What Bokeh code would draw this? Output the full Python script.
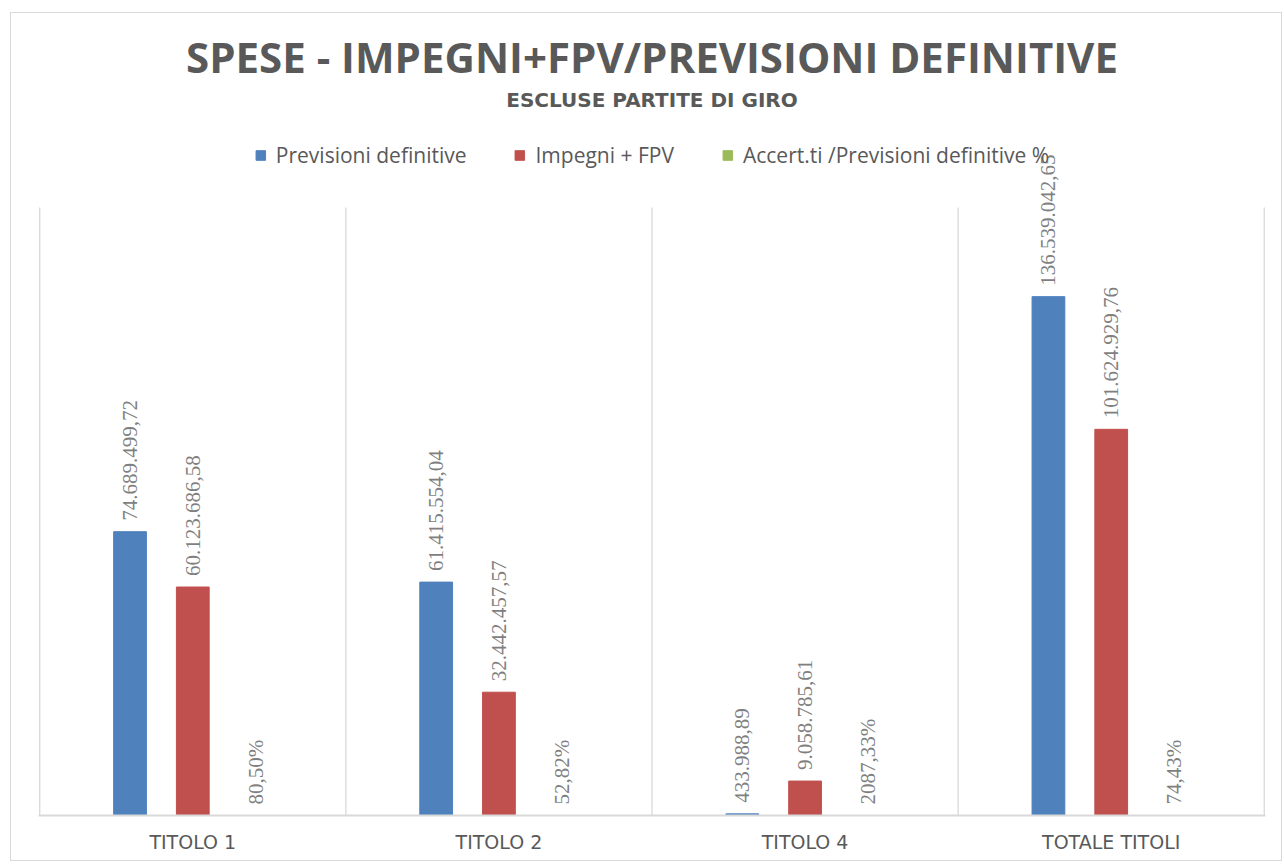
import math
import numpy as np
from bokeh.plotting import figure
from bokeh.models import (ColumnDataSource, LabelSet, Label, Range1d, FixedTicker,
                          Legend, LegendItem)
from bokeh.embed import file_html
from bokeh.resources import INLINE

# ---- data ----
categories = ["TITOLO 1", "TITOLO 2", "TITOLO 4", "TOTALE TITOLI"]
previsioni = [74689499.72, 61415554.04, 433988.89, 136539042.65]
impegni = [60123686.58, 32442457.57, 9058785.61, 101624929.76]
percentuali = [80.50, 52.82, 2087.33, 74.43]
series_names = ["Previsioni definitive", "Impegni + FPV", "Accert.ti /Previsioni definitive %"]
axis_max = 160_000_000

title_text = "SPESE - IMPEGNI+FPV/PREVISIONI DEFINITIVE"
subtitle_text = "ESCLUSE PARTITE DI GIRO"

# ---- style ----
BLUE, RED, GREEN = "#4F81BD", "#C0504D", "#9BBB59"
TXT = "#595959"
LBL = "#7F7F7F"
GRID = "#D9D9D9"
FONT = "Open Sans"
LFONT = "Liberation Sans"
WFONT = "DejaVu Sans"


def it_num(v):
    s = f"{v:,.2f}"
    return s.replace(",", "X").replace(".", ",").replace("X", ".")


def it_pct(v):
    return f"{v:.2f}".replace(".", ",") + "%"


# content origin on page: (11, 13)
W, H = 1272, 849
MB_L, MB_R, MB_T, MB_B = 27, 18, 0, 47
frame_h = H - MB_T - MB_B
PX = axis_max / 608.0          # data units per pixel
y_end = frame_h * PX
BASE_PAGE = 815                # page y of baseline


def ypx(page_y):
    return (BASE_PAGE - page_y) * PX


n = len(categories)
centers = np.arange(n) + 0.5
off = 0.205
bw = 0.107

p = figure(width=W, height=H, output_backend="svg", toolbar_location=None,
           x_range=Range1d(-0.004, n + 0.004), y_range=Range1d(0, y_end),
           min_border_left=MB_L, min_border_right=MB_R,
           min_border_top=MB_T, min_border_bottom=MB_B)
p.styles = {"border": "1px solid #D9D9D9", "margin-left": "10px", "margin-top": "12px"}
p.outline_line_color = None
p.background_fill_color = "white"
p.border_fill_color = "white"
p.grid.visible = False
p.yaxis.visible = False

# category separators
p.segment(x0=list(range(n + 1)), x1=list(range(n + 1)), y0=0, y1=axis_max,
          line_color=GRID, line_width=1.3)

src = ColumnDataSource(dict(
    xb=centers - off, xr=centers, xg=centers + off,
    prev=previsioni, imp=impegni, pct=[v / 100 for v in percentuali],
    lprev=[it_num(v) for v in previsioni],
    limp=[it_num(v) for v in impegni],
    lpct=[it_pct(v) for v in percentuali],
))

rb = p.vbar(x="xb", top="prev", width=bw, source=src, fill_color=BLUE, line_color=BLUE)
rr = p.vbar(x="xr", top="imp", width=bw, source=src, fill_color=RED, line_color=RED)
rg = p.vbar(x="xg", top="pct", width=bw, source=src, fill_color=GREEN, line_color=GREEN)

for xcol, ycol, tcol in [("xb", "prev", "lprev"), ("xr", "imp", "limp"), ("xg", "pct", "lpct")]:
    ls = LabelSet(x=xcol, y=ycol, text=tcol, source=src, angle=math.pi / 2,
                  text_align="left", text_baseline="middle", y_offset=11,
                  text_font=LFONT, text_font_size="21px", text_color=LBL)
    p.add_layout(ls)

# x axis
p.xaxis.ticker = FixedTicker(ticks=list(centers))
p.xaxis.major_label_overrides = {float(c): cat for c, cat in zip(centers, categories)}
p.xaxis.axis_line_color = GRID
p.xaxis.axis_line_width = 2
p.xaxis.major_tick_line_color = None
p.xaxis.minor_tick_line_color = None
p.xaxis.major_tick_out = 0
p.xaxis.major_label_standoff = 15
p.xaxis.major_label_text_font = WFONT
p.xaxis.major_label_text_font_size = "19px"
p.xaxis.major_label_text_color = TXT

# titles
p.add_layout(Label(x=n / 2, y=ypx(56), text=title_text, text_align="center",
                   text_baseline="alphabetic", text_font=FONT, text_font_size="42px",
                   text_font_style="bold", text_color=TXT))
p.add_layout(Label(x=n / 2, y=ypx(99), text=subtitle_text, text_align="center",
                   text_baseline="alphabetic", text_font=WFONT, text_font_size="20px",
                   text_font_style="bold", text_color=TXT))

legend = Legend(items=[LegendItem(label=series_names[0], renderers=[rb]),
                       LegendItem(label=series_names[1], renderers=[rr]),
                       LegendItem(label=series_names[2], renderers=[rg])],
                orientation="horizontal", location="top_center",
                margin=128, padding=0, spacing=47, label_standoff=10,
                glyph_width=12, glyph_height=12, label_height=12,
                label_text_font=FONT, label_text_font_size="21px",
                label_text_color=TXT, background_fill_alpha=0,
                border_line_color=None)
p.add_layout(legend, "center")

open("out.html", "w").write(file_html(p, INLINE))
